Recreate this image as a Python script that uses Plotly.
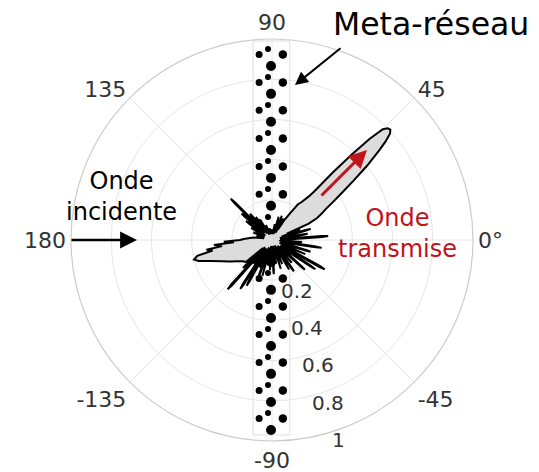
import numpy as np
import plotly.graph_objects as go

# ---------------- data ----------------
# normalized far-field pattern : angle (deg) and amplitude
pattern_theta = [0, 3.4, 4, 4.6, 7, 9.5, 10, 10.5, 13, 15.5, 16, 16.5, 19, 21, 23,
                 24, 26, 28, 30, 32, 34, 36, 38, 40, 41, 42, 43, 44, 45, 46, 47, 48, 49, 50, 52, 54, 56, 58, 60,
                 62, 64, 68, 70, 74, 77, 80, 84, 90, 96, 102, 106, 112, 116, 120, 122, 125, 127,
                 129.4, 130, 130.6, 132, 134.4, 135, 135.6, 137, 138.4, 139, 139.6, 141, 143.5, 144, 144.5,
                 146, 150, 153, 158, 161, 165, 168,
                 172, 175, 178, 180, 182, 183.5, 185, 187, 188.5, 190, 192, 194, 196, 199, 203, 207, 212,
                 216, 220, 222,
                 223.5, 224, 224.5, 226, 227.4, 228, 228.6, 230, 232, 234, 236.4, 237, 237.6, 239, 240.4,
                 241, 241.6, 243, 246, 248, 249.5, 250, 250.5, 252,
                 255, 257, 260, 263, 266, 269, 272.5, 273, 273.5, 276, 280, 283, 287, 290, 293, 296, 300, 302,
                 304.5, 305, 305.5, 308, 311, 314, 317.5, 318, 318.5, 321, 325.4, 326, 326.6, 328, 330.4,
                 331, 331.6, 333,
                 337, 340, 342.5, 343, 343.5, 346, 350.4, 351, 351.6, 353, 356, 358, 360]
pattern_r = [0.04, 0.25, 0.28, 0.25, 0.04, 0.16, 0.18, 0.16, 0.04, 0.18, 0.20, 0.18, 0.05, 0.15, 0.08,
             0.20, 0.25, 0.28, 0.31, 0.36, 0.42, 0.50, 0.60, 0.70, 0.75, 0.79, 0.805, 0.80, 0.78, 0.70, 0.58,
             0.45, 0.32, 0.28, 0.24, 0.22, 0.16, 0.12, 0.06,
             0.10, 0.04, 0.13, 0.04, 0.12, 0.03, 0.08, 0.03, 0.04, 0.03, 0.06, 0.03, 0.08, 0.03, 0.10, 0.04,
             0.14, 0.04,
             0.15, 0.17, 0.15, 0.05, 0.26, 0.29, 0.26, 0.05, 0.18, 0.20, 0.18, 0.05, 0.14, 0.16, 0.14,
             0.04, 0.12, 0.04, 0.10, 0.04, 0.08, 0.04,
             0.09, 0.11, 0.14, 0.16, 0.24, 0.19, 0.29, 0.25, 0.33, 0.30, 0.38, 0.40, 0.38, 0.32, 0.27,
             0.235, 0.20, 0.18, 0.17, 0.06,
             0.18, 0.20, 0.18, 0.05, 0.30, 0.33, 0.30, 0.05, 0.15, 0.05, 0.26, 0.29, 0.26, 0.06, 0.23,
             0.26, 0.23, 0.05, 0.15, 0.04, 0.18, 0.20, 0.18, 0.04,
             0.185, 0.04, 0.12, 0.03, 0.15, 0.03, 0.15, 0.17, 0.15, 0.03, 0.12, 0.03, 0.15, 0.03, 0.13,
             0.03, 0.17, 0.04,
             0.17, 0.19, 0.17, 0.04, 0.15, 0.04, 0.20, 0.22, 0.20, 0.05, 0.23, 0.26, 0.23, 0.05, 0.27,
             0.30, 0.27, 0.05,
             0.18, 0.04, 0.18, 0.20, 0.18, 0.04, 0.22, 0.25, 0.22, 0.04, 0.15, 0.04, 0.04]
assert len(pattern_theta) == len(pattern_r)

# meta-grating: unit-cell rows (top of each cell, in radius units) and dots of one cell
row_y = [0.950, 0.811, 0.672, 0.532, 0.393, 0.254, 0.114, -0.025, -0.164, -0.304,
         -0.443, -0.582, -0.722, -0.861]
dot_dx = [-0.020, -0.064, 0.054, -0.005]
dot_dy = [0.0, -0.027, -0.027, -0.084]
dot_size = [6, 7, 8.5, 10]
grating_x = [-0.094, 0.089]
grating_y = [-0.97, 0.99]

angle_tickvals = [0, 45, 90, 135, 180, 225, 270, 315]
angle_ticktext = ['0°', '45', '90', '135', '180', '-135', '-90', '-45']
radial_tickvals = [0.2, 0.4, 0.6, 0.8, 1.0]
radial_ticktext = ['0.2', '0.4', '0.6', '0.8', '1']
radial_label_angle = -74.6   # direction along which the r labels are written

FONT = 'DejaVu Sans'
RED = '#c0141c'


def to_polar(x, y):
    x = np.asarray(x, float)
    y = np.asarray(y, float)
    return np.hypot(x, y), np.degrees(np.arctan2(y, x))


fig = go.Figure()

# grating frame
fx = [grating_x[0], grating_x[1], grating_x[1], grating_x[0], grating_x[0]]
fy = [grating_y[1], grating_y[1], grating_y[0], grating_y[0], grating_y[1]]
r, t = to_polar(fx, fy)
fig.add_trace(go.Scatterpolar(r=r, theta=t, mode='lines',
                              line=dict(color='#dddddd', width=1), hoverinfo='skip'))

# grating dots
for dx, dy, s in zip(dot_dx, dot_dy, dot_size):
    xs = [dx] * len(row_y)
    ys = [yy + dy for yy in row_y]
    r, t = to_polar(xs, ys)
    fig.add_trace(go.Scatterpolar(r=r, theta=t, mode='markers',
                                  marker=dict(color='black', size=s, line=dict(width=0))))

# radiation pattern
fig.add_trace(go.Scatterpolar(r=pattern_r, theta=pattern_theta, mode='lines',
                              fill='toself', fillcolor='#dcdcdc',
                              line=dict(color='black', width=2)))

L, T, W = 71, 39, 402
H_TOTAL = 472


def px(x):
    return (x - L) / W


def py(y):
    return (T + W - y) / W


def label(x, y, text, size, color='black'):
    return dict(x=px(x), y=py(y), text=text, showarrow=False, xanchor='center',
                yanchor='middle', font=dict(size=size, color=color, family=FONT))


def arrow(x, y, ax, ay, width, size, color='black'):
    return dict(x=px(x), y=py(y), ax=ax, ay=ay, text='', showarrow=True, arrowhead=2,
                arrowsize=size, arrowwidth=width, arrowcolor=color, standoff=0)


annotations = [
    label(431, 24, 'Meta-réseau', 31.5),
    label(121, 196, 'Onde<br>incidente', 24),
    label(397, 233, 'Onde<br>transmise', 24, RED),
    arrow(137, 240, -67, 0, 2.6, 1.3),
    arrow(295, 85, 47, -38, 2, 1.3),
    arrow(367, 150, -47, 47, 3, 1.2, RED),
]

# radial tick labels, written along the radial_label_angle direction
a = np.radians(radial_label_angle)
for rv, txt in zip(radial_tickvals, radial_ticktext):
    annotations.append(dict(x=0.5 + 0.48 * rv * np.cos(a), y=0.5 + 0.48 * rv * np.sin(a),
                            xref='paper', yref='paper', text=txt, showarrow=False,
                            xanchor='center', yanchor='middle', xshift=14.8, yshift=-13.8,
                            font=dict(size=20, color='#333333', family=FONT)))

fig.update_layout(
    width=539, height=472,
    margin=dict(l=L, r=539 - L - W, t=T, b=H_TOTAL - T - W),
    paper_bgcolor='white',
    showlegend=False,
    font=dict(family=FONT, color='#333333'),
    polar=dict(
        domain=dict(x=[0, 1], y=[0, 1]),
        bgcolor='white',
        radialaxis=dict(range=[0, 1], tickvals=radial_tickvals, showticklabels=False,
                        angle=-75, showline=False, ticks='',
                        gridcolor='#e6e6e6', gridwidth=1),
        angularaxis=dict(tickvals=angle_tickvals, ticktext=angle_ticktext,
                         direction='counterclockwise', rotation=0, ticks='',
                         showline=True, linecolor='#cccccc', linewidth=1.2,
                         gridcolor='#e6e6e6', gridwidth=1,
                         tickfont=dict(size=22, color='#333333', family=FONT)),
    ),
    annotations=annotations,
)

fig.write_html('out.html')
